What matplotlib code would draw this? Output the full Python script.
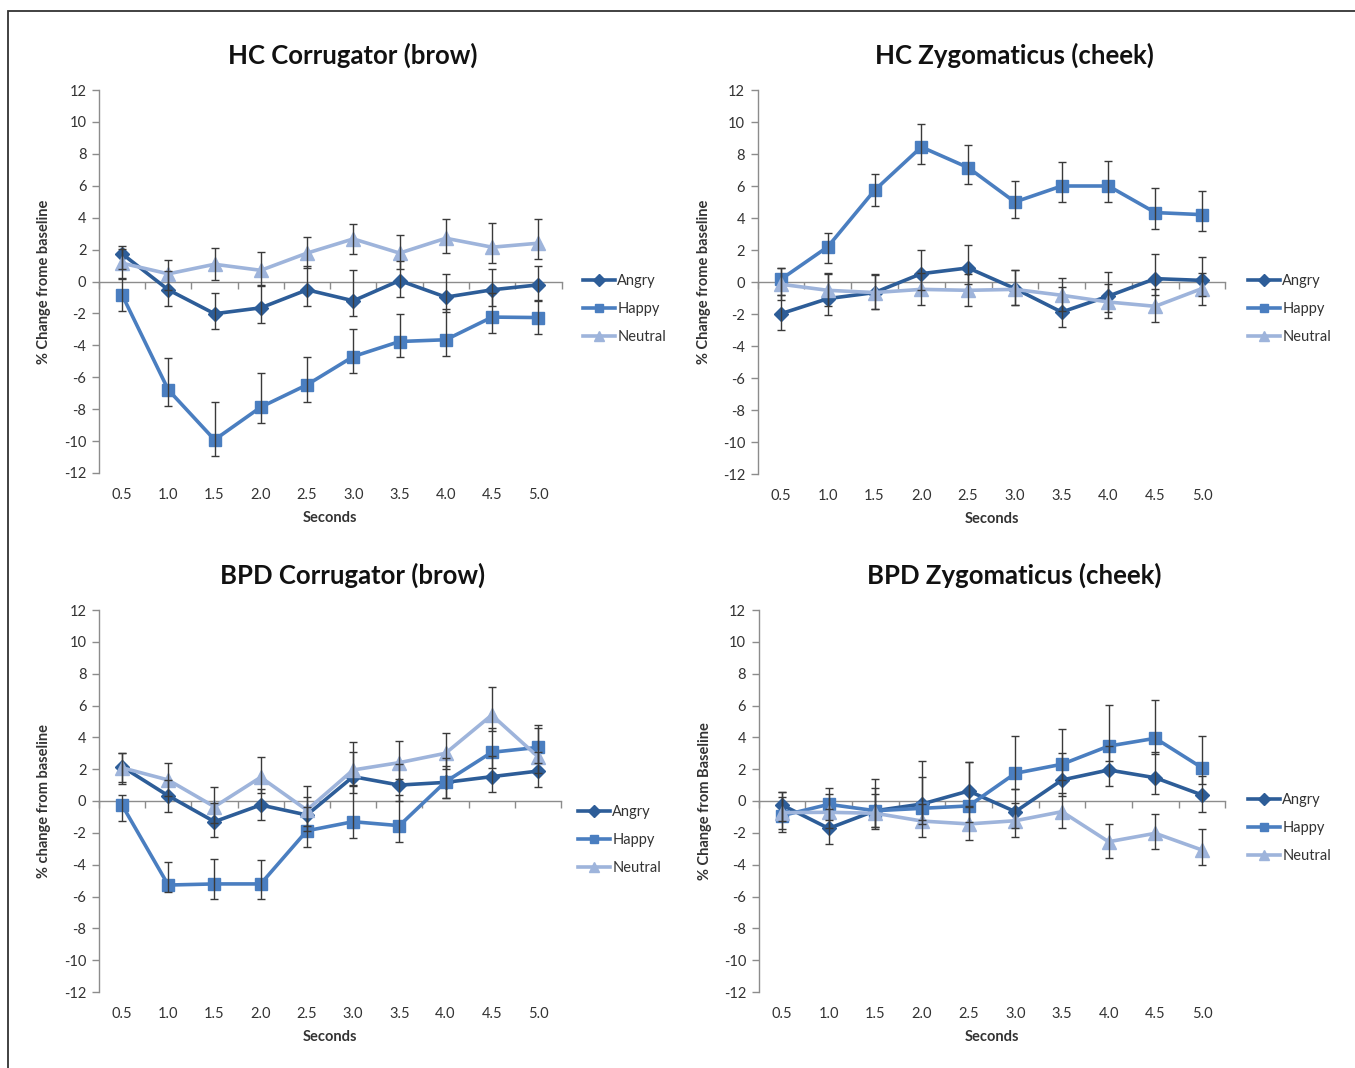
import matplotlib
matplotlib.use("Agg")
import matplotlib.pyplot as plt
from matplotlib.patches import Rectangle
from matplotlib.ticker import FixedLocator

plt.rcParams['font.family'] = ['Lato', 'DejaVu Sans']

# ---------------- data ----------------
seconds = [0.5, 1.0, 1.5, 2.0, 2.5, 3.0, 3.5, 4.0, 4.5, 5.0]
second_labels = ["0.5", "1.0", "1.5", "2.0", "2.5", "3.0", "3.5", "4.0", "4.5", "5.0"]
series_names = ["Angry", "Happy", "Neutral"]

# HC Corrugator (brow)
hc_corr_angry = [1.74, -0.52, -2.02, -1.65, -0.52, -1.21, 0.06, -0.98, -0.52, -0.21]
hc_corr_angry_up = [0.5, 1.2, 1.33, 1.4, 1.5, 1.9, 1.2, 1.46, 1.3, 1.2]
hc_corr_angry_dn = [0.96, 1.0, 0.94, 0.96, 1.0, 0.98, 1.0, 0.94, 1.0, 1.0]
hc_corr_happy = [-0.83, -6.79, -9.92, -7.87, -6.47, -4.70, -3.76, -3.65, -2.23, -2.26]
hc_corr_happy_up = [1.0, 2.0, 2.34, 2.13, 1.73, 1.72, 1.74, 1.9, 1.5, 1.1]
hc_corr_happy_dn = [1.0, 1.0, 1.04, 1.0, 1.05, 1.04, 1.0, 1.0, 1.0, 1.0]
hc_corr_neutral = [1.15, 0.48, 1.08, 0.70, 1.78, 2.67, 1.78, 2.71, 2.15, 2.40]
hc_corr_neutral_up = [0.9, 0.88, 1.0, 1.15, 0.98, 0.95, 1.14, 1.19, 1.49, 1.5]
hc_corr_neutral_dn = [0.94, 1.0, 0.98, 1.0, 0.94, 0.93, 1.0, 0.94, 1.0, 1.0]

# HC Zygomaticus (cheek)
hc_zyg_angry = [-1.98, -1.04, -0.66, 0.52, 0.88, -0.41, -1.88, -0.88, 0.21, 0.10]
hc_zyg_angry_up = [1.15, 1.6, 1.14, 1.46, 1.45, 1.18, 1.55, 1.5, 1.52, 1.46]
hc_zyg_angry_dn = [1.0, 1.0, 1.0, 1.0, 1.0, 1.0, 0.93, 1.0, 1.0, 1.0]
hc_zyg_happy = [0.17, 2.20, 5.73, 8.44, 7.15, 5.00, 6.00, 6.00, 4.34, 4.21]
hc_zyg_happy_up = [0.73, 0.86, 1.04, 1.42, 1.43, 1.31, 1.5, 1.56, 1.56, 1.46]
hc_zyg_happy_dn = [1.0, 1.0, 1.0, 1.04, 1.0, 1.0, 1.0, 1.0, 1.0, 1.0]
hc_zyg_neutral = [-0.14, -0.52, -0.66, -0.46, -0.52, -0.46, -0.83, -1.25, -1.52, -0.41]
hc_zyg_neutral_up = [1.0, 1.0, 1.1, 1.0, 1.0, 1.2, 1.08, 1.1, 1.1, 1.0]
hc_zyg_neutral_dn = [1.0, 1.0, 1.0, 1.0, 1.0, 1.0, 1.0, 1.0, 1.0, 1.0]

# BPD Corrugator (brow)
bpd_corr_angry = [2.16, 0.33, -1.30, -0.25, -0.88, 1.53, 1.00, 1.17, 1.53, 1.88]
bpd_corr_angry_up = [0.85, 1.0, 1.2, 1.0, 1.1, 1.57, 1.3, 1.0, 1.3, 1.2]
bpd_corr_angry_dn = [0.95, 1.0, 0.94, 0.94, 1.0, 1.0, 1.0, 1.0, 0.94, 1.0]
bpd_corr_happy = [-0.25, -5.28, -5.21, -5.21, -1.87, -1.30, -1.55, 1.21, 3.06, 3.37]
bpd_corr_happy_up = [0.63, 1.45, 1.55, 1.5, 1.5, 2.3, 1.9, 1.5, 1.5, 1.4]
bpd_corr_happy_dn = [1.0, 0.45, 0.95, 0.95, 1.0, 1.0, 1.0, 1.0, 1.0, 1.0]
bpd_corr_neutral = [2.09, 1.32, -0.36, 1.49, -0.57, 1.95, 2.41, 3.00, 5.40, 2.78]
bpd_corr_neutral_up = [0.94, 1.05, 1.22, 1.29, 1.5, 1.78, 1.36, 1.3, 1.74, 1.8]
bpd_corr_neutral_dn = [1.0, 1.0, 1.0, 1.0, 1.0, 1.0, 1.0, 1.0, 1.0, 1.0]

# BPD Zygomaticus (cheek)
bpd_zyg_angry = [-0.25, -1.72, -0.61, -0.19, 0.63, -0.67, 1.32, 1.95, 1.46, 0.38]
bpd_zyg_angry_up = [0.8, 1.2, 1.4, 1.68, 1.8, 1.4, 1.7, 1.5, 1.6, 1.2]
bpd_zyg_angry_dn = [1.0, 1.0, 1.0, 1.0, 1.0, 1.0, 1.0, 1.0, 1.0, 1.05]
bpd_zyg_happy = [-0.92, -0.21, -0.61, -0.46, -0.31, 1.74, 2.31, 3.45, 3.94, 2.09]
bpd_zyg_happy_up = [1.46, 1.0, 2.0, 3.0, 2.74, 2.34, 2.2, 2.58, 2.4, 2.0]
bpd_zyg_happy_dn = [1.0, 1.0, 1.0, 1.0, 1.0, 1.0, 1.0, 0.95, 1.0, 1.0]
bpd_zyg_neutral = [-0.73, -0.71, -0.77, -1.26, -1.44, -1.24, -0.67, -2.56, -2.03, -3.08]
bpd_zyg_neutral_up = [1.0, 1.13, 1.2, 1.1, 1.1, 1.1, 1.2, 1.12, 1.21, 1.3]
bpd_zyg_neutral_dn = [1.0, 1.0, 1.0, 1.0, 1.0, 1.0, 1.05, 1.0, 1.0, 0.94]

y_ticks = [-12, -10, -8, -6, -4, -2, 0, 2, 4, 6, 8, 10, 12]

# ---------------- style ----------------
colors = {"Angry": "#2D5D98", "Happy": "#4A7EC0", "Neutral": "#9EB4DB"}
markers = {"Angry": "D", "Happy": "s", "Neutral": "^"}
msizes = {"Angry": 7.5, "Happy": 8.5, "Neutral": 9.5}

W, H = 1355, 1068
fig = plt.figure(figsize=(W / 100, H / 100), dpi=100)


def fx(px):
    return px / W


def fy(py):
    return 1 - py / H


panels = [
    dict(title="HC Corrugator (brow)", ylabel="% Change frome baseline",
         box=(98.9, 90, 561.5, 473), leg=(583, 309), ylab_x=-0.104,
         data=[(hc_corr_angry, hc_corr_angry_up, hc_corr_angry_dn),
               (hc_corr_happy, hc_corr_happy_up, hc_corr_happy_dn),
               (hc_corr_neutral, hc_corr_neutral_up, hc_corr_neutral_dn)]),
    dict(title="HC Zygomaticus (cheek)", ylabel="% Change frome baseline",
         box=(757.6, 90, 1225.4, 474), leg=(1248, 309), ylab_x=-0.100,
         data=[(hc_zyg_angry, hc_zyg_angry_up, hc_zyg_angry_dn),
               (hc_zyg_happy, hc_zyg_happy_up, hc_zyg_happy_dn),
               (hc_zyg_neutral, hc_zyg_neutral_up, hc_zyg_neutral_dn)]),
    dict(title="BPD Corrugator (brow)", ylabel="% change from baseline",
         box=(98.9, 610, 561.1, 992), leg=(578, 840), ylab_x=-0.104,
         data=[(bpd_corr_angry, bpd_corr_angry_up, bpd_corr_angry_dn),
               (bpd_corr_happy, bpd_corr_happy_up, bpd_corr_happy_dn),
               (bpd_corr_neutral, bpd_corr_neutral_up, bpd_corr_neutral_dn)]),
    dict(title="BPD Zygomaticus (cheek)", ylabel="% Change from Baseline",
         box=(758.7, 610, 1225.3, 992), leg=(1248, 828), ylab_x=-0.100,
         data=[(bpd_zyg_angry, bpd_zyg_angry_up, bpd_zyg_angry_dn),
               (bpd_zyg_happy, bpd_zyg_happy_up, bpd_zyg_happy_dn),
               (bpd_zyg_neutral, bpd_zyg_neutral_up, bpd_zyg_neutral_dn)]),
]

axis_col = "#8C8C8C"
text_col = "#333333"

for p in panels:
    x0, y0, x1, y1 = p["box"]
    ax = fig.add_axes([fx(x0), fy(y1), fx(x1) - fx(x0), fy(y0) - fy(y1)])
    handles = []
    for name, (vals, up, dn) in zip(series_names, p["data"]):
        ln, = ax.plot(seconds, vals, color=colors[name], lw=2.6,
                      marker=markers[name], ms=msizes[name],
                      markerfacecolor=colors[name], markeredgecolor=colors[name],
                      zorder=3, label=name)
        handles.append(ln)
    for name, (vals, up, dn) in zip(series_names, p["data"]):
        ax.errorbar(seconds, vals, yerr=[dn, up], fmt="none", ecolor="#3A3A3A",
                    elinewidth=1.0, capsize=3.2, capthick=1.0, zorder=4)

    ax.set_xlim(0.25, 5.25)
    ax.set_ylim(-12, 12)
    ax.set_yticks(y_ticks)
    ax.set_yticklabels([str(v) for v in y_ticks])

    # category labels at the bottom, boundary tick marks on the zero line
    ax.set_xticks(seconds)
    ax.set_xticklabels(second_labels)
    ax.xaxis.set_minor_locator(FixedLocator([0.25 + 0.5 * i for i in range(11)]))
    ax.tick_params(axis="x", which="major", length=0, pad=11, labelsize=10.5,
                   labelcolor=text_col, top=False, bottom=True)
    ax.tick_params(axis="x", which="minor", length=5, width=1, color=axis_col,
                   direction="in", top=True, bottom=False)
    ax.tick_params(axis="y", which="major", length=5, width=1, color=axis_col,
                   direction="out", labelsize=10.5, labelcolor=text_col, pad=4)

    for s in ("right", "bottom"):
        ax.spines[s].set_visible(False)
    ax.spines["top"].set_position(("data", 0))
    ax.spines["top"].set_color(axis_col)
    ax.spines["left"].set_color(axis_col)
    ax.spines["top"].set_linewidth(1.0)
    ax.spines["left"].set_linewidth(1.0)

    ax.set_xlabel("Seconds", fontsize=10.5, fontweight="bold", color=text_col)
    ax.xaxis.set_label_coords(0.5, -38 / (y1 - y0))
    ax.set_ylabel(p["ylabel"], fontsize=10.5, fontweight="bold", color=text_col)
    ax.yaxis.set_label_coords(p["ylab_x"], 0.5)

    ax.set_title(p["title"], fontsize=18.5, fontweight="bold", color="#111111",
                 x=0.548, pad=19)

    lx, ly = p["leg"]
    ax.legend(handles=handles, loc="center left",
              bbox_to_anchor=(fx(lx), fy(ly)), bbox_transform=fig.transFigure,
              frameon=False, fontsize=10.5, handlelength=2.2, handletextpad=0.15,
              borderpad=0, borderaxespad=0, labelspacing=0.95, markerscale=0.75,
              labelcolor=text_col)

# page frame (left and top edges visible)
fig.add_artist(Rectangle((fx(8), -0.05), 1.2, fy(10.5) + 0.05,
                         transform=fig.transFigure, fill=False,
                         edgecolor="#333333", linewidth=1.3))

fig.savefig("out.png", dpi=100, facecolor="white")
